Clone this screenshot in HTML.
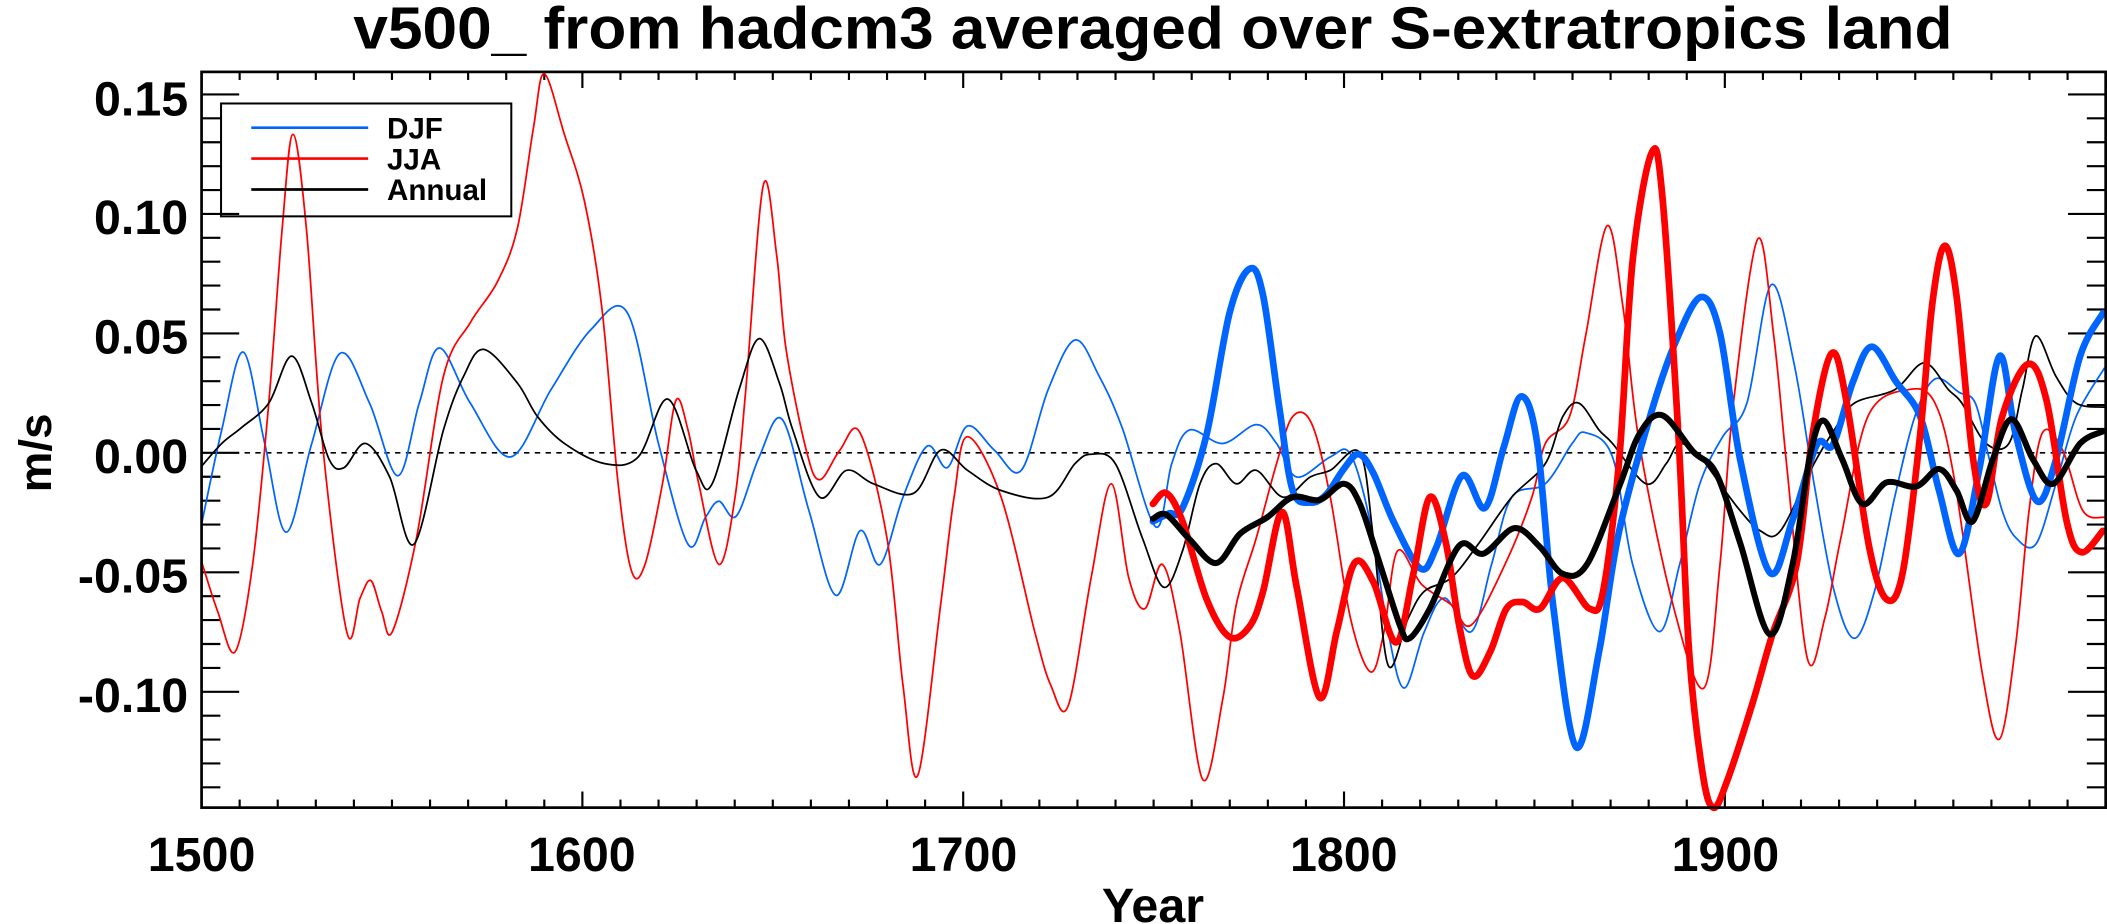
<!DOCTYPE html>
<html><head><meta charset="utf-8"><style>
html,body{margin:0;padding:0;background:#fff;}
svg{display:block;}
text{font-family:"Liberation Sans",sans-serif;font-weight:bold;fill:#000;}
</style></head><body>
<svg id="s" width="2107" height="924" viewBox="0 0 1568 687.6" preserveAspectRatio="none" xmlns="http://www.w3.org/2000/svg">
<rect width="1568" height="688" fill="#fff"/>
<text x="858" y="36" font-size="44" text-anchor="middle" textLength="1190" lengthAdjust="spacingAndGlyphs">v500_ from hadcm3 averaged over S-extratropics land</text>
<g id="ticks" stroke="#000" stroke-width="1.6"></g>
<line x1="150" y1="337" x2="1567" y2="337" stroke="#000" stroke-width="1.2" stroke-dasharray="4,4"/>
<g id="lines" fill="none" stroke-linejoin="round" stroke-linecap="round"></g>
<rect x="150" y="53.5" width="1417" height="547.5" fill="none" stroke="#000" stroke-width="2"/>
<g font-size="36" text-anchor="end">
<text x="140" y="86">0.15</text>
<text x="140" y="174">0.10</text>
<text x="140" y="263">0.05</text>
<text x="140" y="352">0.00</text>
<text x="140" y="441">-0.05</text>
<text x="140" y="530">-0.10</text>
</g>
<g font-size="36" text-anchor="middle">
<text x="150" y="648">1500</text>
<text x="433" y="648">1600</text>
<text x="717" y="648">1700</text>
<text x="1000" y="648">1800</text>
<text x="1284" y="648">1900</text>
<text x="858" y="686">Year</text>
</g>
<text transform="translate(38,337) rotate(-90)" font-size="34" text-anchor="middle">m/s</text>
<rect x="164.5" y="77" width="216" height="84" fill="none" stroke="#000" stroke-width="1.5"/>
<line x1="187" y1="95" x2="274" y2="95" stroke="#0064ff" stroke-width="2"/>
<line x1="187" y1="118" x2="274" y2="118" stroke="#ff0000" stroke-width="2"/>
<line x1="187" y1="141" x2="274" y2="141" stroke="#000" stroke-width="2"/>
<g font-size="22"><text x="288" y="103">DJF</text><text x="288" y="126">JJA</text><text x="288" y="149">Annual</text></g>
</svg>
<script>
var t=document.getElementById('ticks'),h='';
function ln(a,b,c,d){h+='<line x1="'+a+'" y1="'+b+'" x2="'+c+'" y2="'+d+'"/>';}
for(var y=1500;y<=2000;y+=10){var x=150+(y-1500)*2.834;var L=(y%100==0)?12:6;ln(x,601,x,601-L);ln(x,53.5,x,53.5+L);}
for(var v=-14;v<=16;v++){var yy=337-v*17.78;if(yy<53||yy>601)continue;var L=(v%5==0)?28:14;ln(150,yy,150+L,yy);ln(1567,yy,1567-L,yy);}
t.innerHTML=h;
function path(p){var d='M'+p[0][0]+','+p[0][1];for(var i=0;i<p.length-1;i++){var p0=p[i-1]||p[i],p1=p[i],p2=p[i+1],p3=p[i+2]||p2;
d+=' C'+(p1[0]+(p2[0]-p0[0])/6)+','+(p1[1]+(p2[1]-p0[1])/6)+' '+(p2[0]-(p3[0]-p1[0])/6)+','+(p2[1]-(p3[1]-p1[1])/6)+' '+p2[0]+','+p2[1];}return d;}
var S=[
["#0064ff",1.3,[[150,390],[165,320],[181,262],[197,330],[213,396],[232,330],[253,263],[275,300],[296,354],[312,300],[327,259],[350,300],[380,340],[410,290],[440,245],[467,233],[490,330],[512,405],[525,385],[535,373],[548,384],[565,340],[582,312],[602,380],[622,443],[640,395],[655,420],[672,370],[690,332],[705,348],[720,317],[740,335],[760,350],[780,290],[800,253],[818,280],[835,318],[860,392],[872,345],[885,320],[910,330],[935,316],[950,330],[965,355],[990,340],[1005,338],[1020,390],[1033,470],[1045,512],[1060,470],[1075,445],[1095,470],[1110,420],[1125,370],[1150,360],[1170,330],[1180,322],[1200,340],[1215,420],[1235,470],[1250,420],[1265,360],[1282,325],[1300,300],[1318,212],[1335,270],[1350,360],[1365,440],[1380,475],[1395,440],[1410,370],[1425,310],[1440,282],[1458,292],[1470,300],[1480,340],[1490,380],[1500,400],[1515,405],[1530,360],[1545,310],[1566,274]]],
["#ff0000",1.3,[[150,418],[162,455],[175,485],[188,420],[200,300],[210,170],[218,100],[228,170],[240,330],[258,470],[268,445],[276,432],[284,455],[292,470],[310,400],[330,280],[350,240],[370,210],[385,170],[397,95],[405,55],[420,100],[435,150],[448,230],[460,360],[470,425],[480,420],[493,360],[503,298],[512,320],[520,360],[535,420],[547,370],[555,290],[568,138],[578,190],[585,260],[600,335],[610,357],[625,335],[640,322],[660,400],[672,510],[683,577],[700,450],[710,370],[720,325],[745,370],[770,470],[782,510],[795,525],[812,430],[827,360],[840,430],[852,453],[865,420],[878,470],[895,580],[910,520],[920,450],[935,400],[950,345],[962,310],[976,315],[990,370],[1005,460],[1020,500],[1030,470],[1040,410],[1058,435],[1080,450],[1095,465],[1120,420],[1140,370],[1150,330],[1168,310],[1180,250],[1196,168],[1208,230],[1220,330],[1245,450],[1268,512],[1280,420],[1290,300],[1308,178],[1320,250],[1330,350],[1345,490],[1358,460],[1370,400],[1390,310],[1420,290],[1440,300],[1455,360],[1475,500],[1488,550],[1500,480],[1510,380],[1520,322],[1535,335],[1550,380],[1566,385]]],
["#000",1.3,[[150,347],[165,330],[180,318],[200,300],[217,265],[232,300],[245,342],[256,348],[272,330],[290,355],[308,405],[330,320],[345,280],[360,260],[385,285],[400,310],[420,330],[450,345],[475,340],[497,297],[518,350],[530,360],[550,290],[565,252],[580,285],[590,320],[610,370],[630,350],[650,360],[680,367],[700,335],[720,350],[745,365],[780,370],[800,345],[812,338],[830,345],[850,400],[866,437],[880,410],[893,360],[905,345],[920,360],[935,350],[955,370],[975,355],[990,350],[1012,337],[1022,400],[1033,495],[1048,460],[1060,440],[1080,430],[1100,405],[1125,370],[1150,345],[1163,310],[1175,300],[1190,320],[1200,330],[1225,360],[1240,345],[1250,330],[1265,340],[1280,360],[1295,380],[1310,395],[1325,395],[1350,345],[1365,320],[1380,300],[1410,290],[1432,270],[1450,290],[1460,300],[1478,330],[1495,330],[1505,290],[1515,250],[1530,280],[1545,300],[1566,303]]],
["#0064ff",5,[[858,388],[870,382],[880,378],[898,323],[915,233],[930,200],[940,220],[952,303],[962,365],[975,374],[987,368],[1000,349],[1011,338],[1022,352],[1037,388],[1057,423],[1069,407],[1088,354],[1105,378],[1119,333],[1132,295],[1144,330],[1156,452],[1173,556],[1190,485],[1205,395],[1230,303],[1248,252],[1266,221],[1280,248],[1295,342],[1317,426],[1334,387],[1352,331],[1364,331],[1379,284],[1393,258],[1411,284],[1429,310],[1443,365],[1458,412],[1473,349],[1488,265],[1500,323],[1516,373],[1530,342],[1548,265],[1565,233]]],
["#ff0000",5,[[858,375],[868,367],[880,388],[898,446],[915,474],[930,466],[940,440],[954,381],[965,437],[982,519],[995,469],[1008,419],[1022,433],[1039,478],[1052,426],[1064,370],[1076,404],[1086,466],[1096,503],[1109,485],[1121,453],[1133,448],[1146,453],[1163,430],[1183,453],[1193,440],[1205,342],[1215,194],[1229,114],[1237,145],[1249,323],[1257,485],[1267,575],[1275,601],[1285,582],[1304,524],[1319,472],[1337,420],[1349,323],[1363,263],[1374,298],[1391,407],[1404,446],[1416,426],[1429,323],[1438,226],[1447,183],[1456,220],[1468,339],[1478,375],[1490,310],[1509,271],[1523,298],[1538,388],[1549,411],[1565,395]]],
["#000",4.5,[[858,386],[868,383],[885,401],[905,419],[923,397],[943,385],[962,370],[982,372],[1000,360],[1012,375],[1027,420],[1042,466],[1049,475],[1064,453],[1086,406],[1104,412],[1127,393],[1146,407],[1163,427],[1181,420],[1205,362],[1220,323],[1237,309],[1260,336],[1277,352],[1295,404],[1317,472],[1334,420],[1347,339],[1357,313],[1371,342],[1386,375],[1404,359],[1426,362],[1443,349],[1456,365],[1468,388],[1483,342],[1497,312],[1513,342],[1528,360],[1548,330],[1565,321]]]
];
var g=document.getElementById('lines'),o='';
S.forEach(function(s){o+='<path d="'+path(s[2])+'" stroke="'+s[0]+'" stroke-width="'+s[1]+'"/>';});
g.innerHTML=o;
</script>
</body></html>
